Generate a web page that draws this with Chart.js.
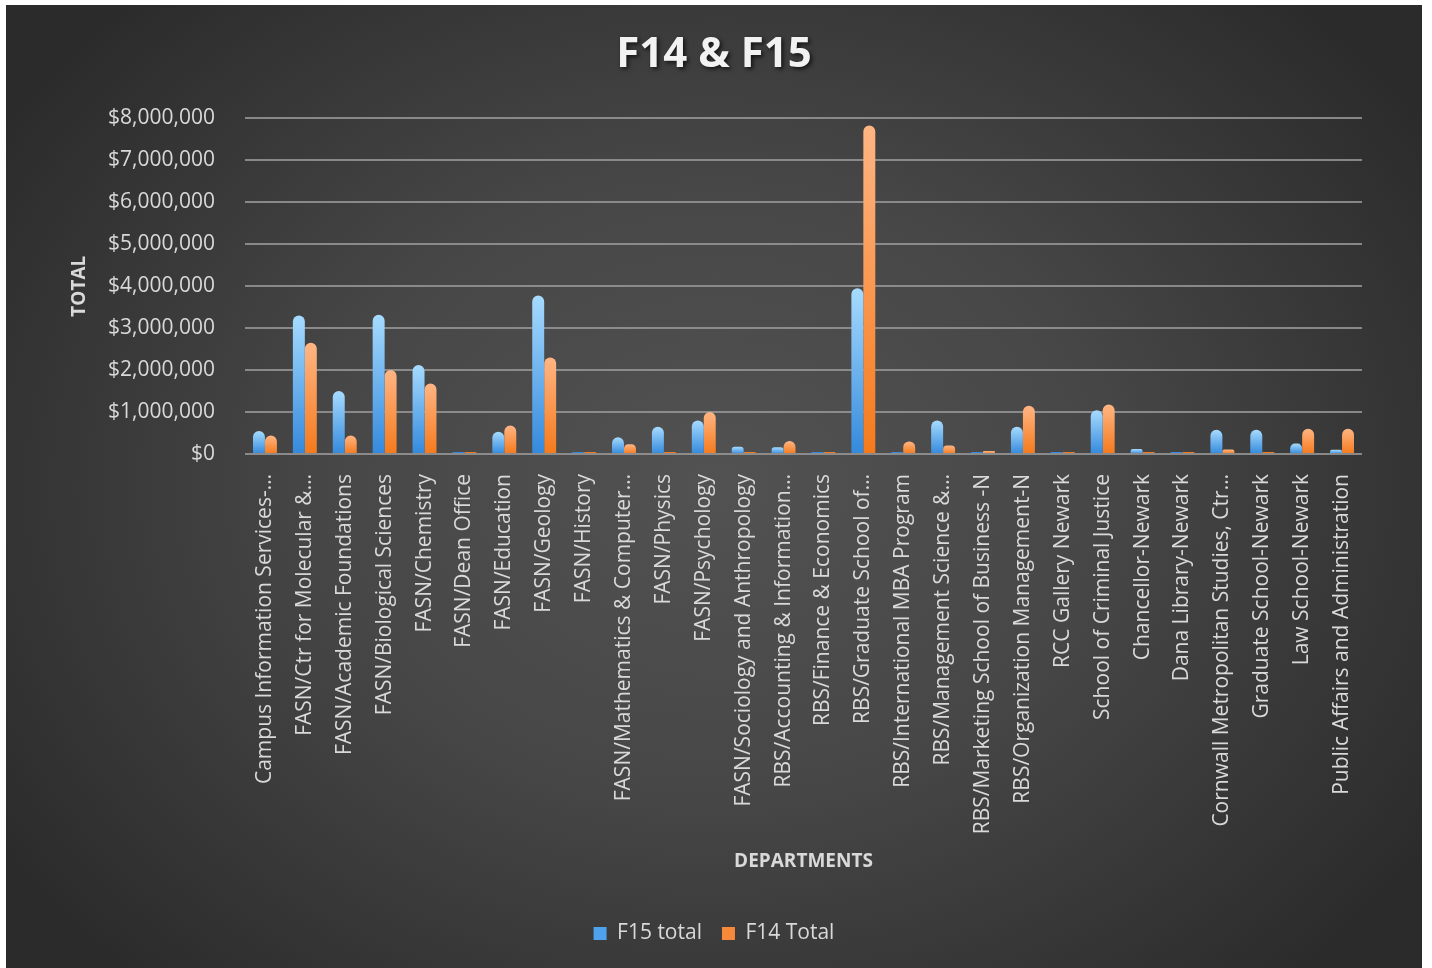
<!DOCTYPE html>
<html>
<head>
<meta charset="utf-8">
<script src="https://cdn.jsdelivr.net/npm/chart.js@4"></script>
<style>
  html, body { margin: 0; padding: 0; background: #ffffff; }
  #frame {
    position: absolute; left: 6px; top: 5px; width: 1416px; height: 963px;
    background: radial-gradient(ellipse 60% 70% at 50% 50%, #525252 0%, #474747 45%, #2b2b2b 100%);
  }
</style>
</head>
<body>
<div id="frame"><canvas id="chart" width="1416" height="963"></canvas></div>
<script>
const departments = [
  'Campus Information Services-…',
  'FASN/Ctr for Molecular &…',
  'FASN/Academic Foundations',
  'FASN/Biological Sciences',
  'FASN/Chemistry',
  'FASN/Dean Office',
  'FASN/Education',
  'FASN/Geology',
  'FASN/History',
  'FASN/Mathematics & Computer…',
  'FASN/Physics',
  'FASN/Psychology',
  'FASN/Sociology and Anthropology',
  'RBS/Accounting & Information…',
  'RBS/Finance & Economics',
  'RBS/Graduate School of…',
  'RBS/International MBA Program',
  'RBS/Management Science &…',
  'RBS/Marketing School of Business -N',
  'RBS/Organization Management-N',
  'RCC Gallery Newark',
  'School of Criminal Justice',
  'Chancellor-Newark',
  'Dana Library-Newark',
  'Cornwall Metropolitan Studies, Ctr…',
  'Graduate School-Newark',
  'Law School-Newark',
  'Public Affairs and Administration'
];

const f15Total = [
  550000, 3300000, 1500000, 3320000, 2120000, 20000, 530000, 3780000, 30000, 400000,
  650000, 800000, 170000, 160000, 20000, 3950000, 40000, 800000, 10000, 650000,
  20000, 1040000, 120000, 20000, 580000, 580000, 250000, 100000
];

const f14Total = [
  440000, 2650000, 440000, 2000000, 1680000, 20000, 680000, 2300000, 30000, 230000,
  20000, 1000000, 10000, 310000, 30000, 7830000, 300000, 200000, 70000, 1150000,
  20000, 1180000, 10000, 20000, 110000, 20000, 600000, 600000
];

const yTicks = [0, 1000000, 2000000, 3000000, 4000000, 5000000, 6000000, 7000000, 8000000];

const textColor = '#d9d9d9';
const font = '"Open Sans", "DejaVu Sans", sans-serif';

// vertical shading per bar, light at the top, darker at the base
function barFill(light, dark) {
  return function (c) {
    const chart = c.chart;
    if (c.type !== 'data' || !chart.chartArea) return dark;
    const y = chart.scales.y;
    const top = y.getPixelForValue(c.raw);
    const base = y.getPixelForValue(0);
    if (!isFinite(top) || base - top < 2) return dark;
    const g = chart.ctx.createLinearGradient(0, top, 0, base);
    g.addColorStop(0, light);
    g.addColorStop(1, dark);
    return g;
  };
}

// soft dark shadow behind the title text only
const titleShadow = {
  id: 'titleShadow',
  beforeDraw(chart) {
    const t = chart.titleBlock;
    if (!t || t._shadowWrapped) return;
    const orig = t.draw.bind(t);
    t.draw = function () {
      const ctx = chart.ctx;
      ctx.save();
      ctx.shadowColor = 'rgba(0,0,0,0.7)';
      ctx.shadowBlur = 4;
      ctx.shadowOffsetX = 2;
      ctx.shadowOffsetY = 2;
      orig();
      ctx.restore();
    };
    t._shadowWrapped = true;
  }
};

new Chart(document.getElementById('chart'), {
  type: 'bar',
  data: {
    labels: departments,
    datasets: [
      {
        label: 'F15 total',
        data: f15Total,
        backgroundColor: barFill('#a6dbff', '#3489dc'),
        borderRadius: { topLeft: 6, topRight: 6 },
        borderSkipped: 'bottom',
        minBarLength: 2
      },
      {
        label: 'F14 Total',
        data: f14Total,
        backgroundColor: barFill('#ffb584', '#f57a1c'),
        borderRadius: { topLeft: 6, topRight: 6 },
        borderSkipped: 'bottom',
        minBarLength: 2
      }
    ]
  },
  plugins: [titleShadow],
  options: {
    responsive: false,
    animation: false,
    datasets: { bar: { categoryPercentage: 0.6, barPercentage: 1 } },
    layout: { padding: { left: 30, right: 30, top: 0, bottom: 14 } },
    plugins: {
      title: {
        display: true,
        text: 'F14 & F15',
        color: '#f2f2f2',
        font: { family: font, size: 42, weight: 'bold' },
        padding: { top: 25, bottom: 38 }
      },
      legend: {
        position: 'bottom',
        labels: {
          color: textColor,
          font: { family: font, size: 21 },
          boxWidth: 13,
          boxHeight: 13,
          padding: 20,
          generateLabels: function (chart) {
            const cols = ['#4fa3ee', '#f7893a'];
            return chart.data.datasets.map((ds, i) => ({
              text: ds.label,
              fillStyle: cols[i],
              strokeStyle: cols[i],
              lineWidth: 0,
              fontColor: textColor,
              hidden: !chart.isDatasetVisible(i),
              datasetIndex: i
            }));
          }
        }
      },
      tooltip: { enabled: false }
    },
    scales: {
      x: {
        grid: { display: false, drawTicks: false },
        border: { display: false },
        ticks: {
          color: textColor,
          font: { family: font, size: 21 },
          minRotation: 90,
          maxRotation: 90,
          autoSkip: false,
          padding: 20
        },
        title: {
          display: true,
          text: 'DEPARTMENTS',
          color: textColor,
          font: { family: font, size: 19, weight: 'bold' },
          padding: { top: 0, bottom: 30 }
        },
        afterFit: function (scale) { scale.height = 449; }
      },
      y: {
        min: 0,
        max: 8000000,
        grid: { color: 'rgba(150,150,150,0.85)', lineWidth: 2, drawTicks: false },
        border: { display: false },
        afterBuildTicks: function (scale) {
          scale.ticks = yTicks.map(v => ({ value: v }));
        },
        ticks: {
          color: textColor,
          font: { family: font, size: 21 },
          padding: 30,
          callback: v => '$' + Number(v).toLocaleString('en-US')
        },
        title: {
          display: true,
          text: 'TOTAL',
          color: textColor,
          font: { family: font, size: 19, weight: 'bold' },
          padding: { top: 32, bottom: 0 }
        },
        afterFit: function (scale) { scale.width = 209; }
      },
      yRight: {
        position: 'right',
        display: true,
        grid: { display: false, drawTicks: false },
        border: { display: false },
        ticks: { display: false },
        afterFit: function (scale) { scale.width = 30; }
      }
    }
  }
});
</script>
</body>
</html>
